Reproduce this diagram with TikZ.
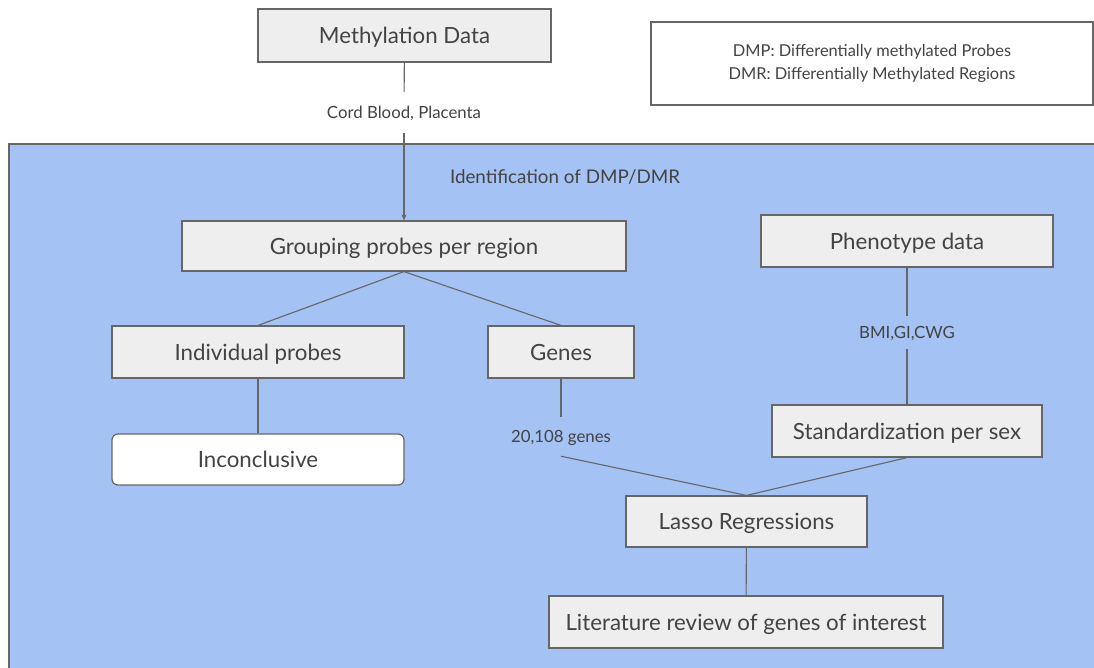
\documentclass[tikz,border=0pt]{standalone}
\usepackage{fontspec}
\setmainfont{Lato}
\usetikzlibrary{arrows.meta}
\usetikzlibrary{positioning}
\definecolor{regionblue}{HTML}{A4C2F4}
\definecolor{boxfill}{HTML}{EEEEEE}
\definecolor{boxline}{HTML}{666666}
\definecolor{inktext}{HTML}{434343}
\tikzset{
    step box/.style={
        draw=boxline,
        fill=boxfill,
        line width=1.2pt,
        text=inktext,
        font=\fontsize{22.3}{26}\selectfont,
        text depth=0pt,
        inner sep=0,
    },
    end box/.style={
        step box,
        fill=white,
        rounded corners=6pt,
    },
    edge label/.style={
        text=inktext,
        font=\fontsize{16.8}{20}\selectfont,
        text depth=0pt,
        inner sep=0,
    },
    link/.style={
        draw=boxline,
        line width=1.1pt,
    },
    link arrow/.style={
        link,
        -{Stealth[length=6pt,width=5pt]},
    },
}

\begin{document}
\begin{tikzpicture}[x=1pt,y=-1pt]
    \useasboundingbox (0,0) rectangle (1094,667);

    % shaded region
    \fill[regionblue] (9,144) rectangle (1100,675);
    \draw[boxline, line width=1.2pt] (1100,144) -- (9,144) -- (9,675);
    \node[edge label, font=\fontsize{18.8}{22}\selectfont] (ident) at (565,177) {Identification of DMP/DMR};

    % legend
    \node[draw=boxline, line width=1.2pt, minimum width=442pt, minimum height=83pt, inner sep=0,
          text=inktext, font=\fontsize{16.4}{22.5}\selectfont, align=center] (legend) at (872,63.5)
        {DMP: Differentially methylated Probes\\DMR: Differentially Methylated Regions};

    \node[step box, minimum width=293pt, minimum height=53pt] (meth) at (404.5,35.5) {Methylation Data};
    \node[edge label, minimum height=41pt] (tissue) at (404,112.5) {Cord Blood, Placenta};
    \node[step box, minimum width=444pt, minimum height=50pt] (group) at (404,246) {Grouping probes per region};
    \node[step box, minimum width=292pt, minimum height=52pt] (probes) at (258,352) {Individual probes};
    \node[step box, minimum width=146pt, minimum height=52pt] (genes) at (561,352) {Genes};
    \node[end box, minimum width=292pt, minimum height=51pt] (incon) at (258,459.5) {Inconclusive};
    \node[edge label, minimum height=39pt] (ngenes) at (561,436.5) {20,108 genes};

    \node[step box, minimum width=292pt, minimum height=52pt] (pheno) at (907,241) {Phenotype data};
    \node[edge label, minimum height=33pt] (traits) at (907,332.5) {BMI,GI,CWG};
    \node[step box, minimum width=270pt, minimum height=52pt] (stdz) at (907,431) {Standardization per sex};
    \node[step box, minimum width=241pt, minimum height=51pt] (lasso) at (746.5,521.5) {Lasso Regressions};
    \node[step box, minimum width=394pt, minimum height=52pt] (review) at (746,622) {Literature review of genes of interest};

    \draw[link] (meth) -- (tissue);
    \draw[link arrow] (tissue) -- (group);
    \draw[link] (group.south) -- (probes.north);
    \draw[link] (group.south) -- (genes.north);
    \draw[link] (probes) -- (incon);
    \draw[link] (genes) -- (ngenes);
    \draw[link] (ngenes.south) -- (lasso.north);
    \draw[link] (pheno) -- (traits);
    \draw[link] (traits) -- (stdz);
    \draw[link] (stdz.south) -- (lasso.north);
    \draw[link] (lasso) -- (review);

\end{tikzpicture}
\end{document}
